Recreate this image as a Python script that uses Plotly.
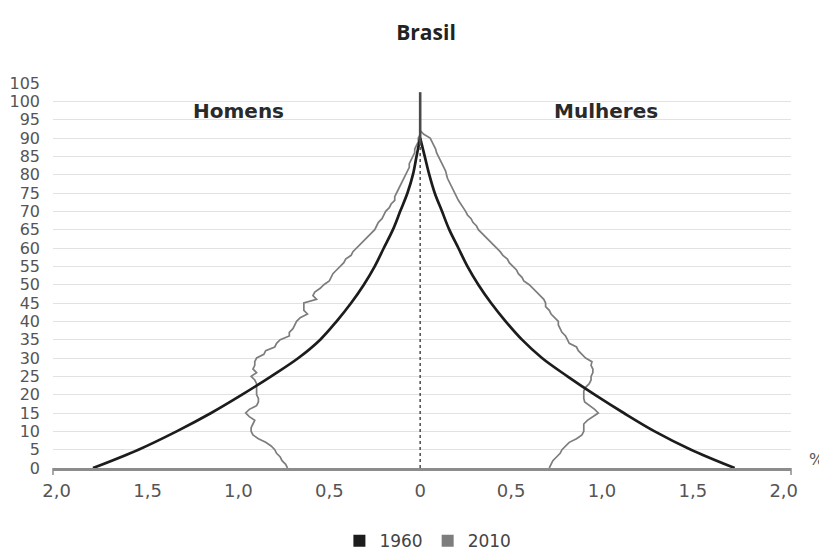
import plotly.graph_objects as go

# ---- data (percent of total population) ----
ages_1960 = [0, 5, 10, 15, 20, 25, 30, 35, 40, 45, 50, 55, 60, 65, 70, 75, 80, 85, 90]
men_1960 = [1.80, 1.55, 1.34, 1.15, 0.98, 0.82, 0.67, 0.55, 0.46, 0.38, 0.31, 0.25, 0.20,
            0.15, 0.11, 0.07, 0.04, 0.02, 0.0]
women_1960 = [1.73, 1.49, 1.29, 1.12, 0.96, 0.81, 0.67, 0.56, 0.47, 0.39, 0.32, 0.26, 0.21,
              0.16, 0.12, 0.08, 0.05, 0.025, 0.0]

ages_2010 = list(range(0, 93))
men_2010 = [0.73, 0.74, 0.76, 0.77, 0.79, 0.80, 0.82, 0.85, 0.89, 0.92,
            0.93, 0.93, 0.92, 0.91, 0.94, 0.96, 0.94, 0.90, 0.89, 0.89,
            0.90, 0.90, 0.90, 0.90, 0.91, 0.93, 0.90, 0.92, 0.91, 0.91,
            0.90, 0.86, 0.85, 0.80, 0.79, 0.77, 0.72, 0.72, 0.70, 0.69,
            0.68, 0.66, 0.62, 0.64, 0.64, 0.64, 0.57, 0.59, 0.58, 0.55,
            0.53, 0.50, 0.49, 0.48, 0.46, 0.44, 0.42, 0.41, 0.38, 0.37,
            0.35, 0.33, 0.31, 0.29, 0.27, 0.25, 0.24, 0.23, 0.21, 0.20,
            0.19, 0.17, 0.16, 0.14, 0.14, 0.13, 0.12, 0.11, 0.10, 0.09,
            0.08, 0.07, 0.06, 0.06, 0.05, 0.04, 0.03, 0.03, 0.02, 0.01,
            0.01, 0.0, 0.0]
women_2010 = [0.71, 0.72, 0.73, 0.75, 0.77, 0.78, 0.80, 0.82, 0.86, 0.89,
              0.90, 0.90, 0.90, 0.92, 0.95, 0.98, 0.96, 0.93, 0.905, 0.90,
              0.90, 0.90, 0.91, 0.93, 0.94, 0.94, 0.95, 0.95, 0.94, 0.945,
              0.91, 0.89, 0.87, 0.86, 0.82, 0.81, 0.80, 0.78, 0.77, 0.76,
              0.76, 0.74, 0.72, 0.71, 0.69, 0.69, 0.68, 0.66, 0.64, 0.62,
              0.60, 0.57, 0.56, 0.54, 0.53, 0.51, 0.49, 0.48, 0.455, 0.44,
              0.42, 0.40, 0.38, 0.36, 0.345, 0.32, 0.31, 0.29, 0.28, 0.26,
              0.25, 0.235, 0.22, 0.21, 0.20, 0.19, 0.18, 0.17, 0.16, 0.15,
              0.145, 0.14, 0.13, 0.12, 0.11, 0.10, 0.09, 0.085, 0.075, 0.065,
              0.055, 0.02, 0.0]

x_ticks = [-2.0, -1.5, -1.0, -0.5, 0.0, 0.5, 1.0, 1.5, 2.0]
x_labels = ["2,0", "1,5", "1,0", "0,5", "0", "0,5", "1,0", "1,5", "2,0"]
y_ticks = list(range(0, 106, 5))
series_names = ["1960", "2010"]
c1960 = "#1c1c1c"
c2010 = "#7d7d7d"
FONT = "DejaVu Sans"

fig = go.Figure()

# 2010 lines
fig.add_trace(go.Scatter(x=[-v for v in men_2010], y=ages_2010, mode="lines",
                         line=dict(color=c2010, width=1.7), showlegend=False, hoverinfo="skip"))
fig.add_trace(go.Scatter(x=women_2010, y=ages_2010, mode="lines",
                         line=dict(color=c2010, width=1.7), showlegend=False, hoverinfo="skip"))
# 1960 lines
fig.add_trace(go.Scatter(x=[-v for v in men_1960], y=ages_1960, mode="lines",
                         line=dict(color=c1960, width=2.7, shape="spline"), showlegend=False))
fig.add_trace(go.Scatter(x=women_1960, y=ages_1960, mode="lines",
                         line=dict(color=c1960, width=2.7, shape="spline"), showlegend=False))

# legend entries (squares)
for name, col in zip(series_names, [c1960, c2010]):
    fig.add_trace(go.Scatter(x=[None], y=[None], mode="markers", name=name,
                             marker=dict(symbol="square", size=15, color=col)))

# centre axis: dotted part and solid top
fig.add_shape(type="line", x0=0, x1=0, y0=0, y1=89, xref="x", yref="y",
              line=dict(color="#555555", width=1.6, dash="dot"))
fig.add_shape(type="line", x0=0, x1=0, y0=88, y1=102.5, xref="x", yref="y",
              line=dict(color="#4a4a4a", width=2.6))
# end ticks of the x axis line
for px in (0, 1):
    fig.add_shape(type="line", x0=px, x1=px, y0=0, y1=-0.018, xref="paper", yref="paper",
                  line=dict(color="#8c8c8c", width=1.5))

fig.add_annotation(x=-1.0, y=97.5, xref="x", yref="y", text="<b>Homens</b>", showarrow=False,
                   font=dict(family=FONT, size=20, color="#2a2a2a"))
fig.add_annotation(x=1.02, y=97.5, xref="x", yref="y", text="<b>Mulheres</b>", showarrow=False,
                   font=dict(family=FONT, size=20, color="#2a2a2a"))
fig.add_annotation(x=1.034, y=0.023, xref="paper", yref="paper", text="%", showarrow=False,
                   xanchor="center", yanchor="middle",
                   font=dict(family=FONT, size=16, color="#555555"))

# page body adds an 8 px offset, so the figure is 819x548 inside a 827x556 window
fig.update_layout(
    width=819, height=548,
    margin=dict(l=45, r=36, t=75, b=88, autoexpand=False),
    paper_bgcolor="white", plot_bgcolor="white",
    title=dict(text="<b>Brasil</b>", x=(418 - 45) / 738, xref="paper",
               xanchor="center", y=1 - 25 / 548, yanchor="middle",
               font=dict(family="Open Sans", size=21, color="#222222")),
    legend=dict(orientation="h", x=0.508, xanchor="center", y=-0.19, yanchor="middle",
                font=dict(family=FONT, size=17, color="#444444"),
                itemsizing="constant", tracegroupgap=0),
    font=dict(family=FONT, color="#555555"),
)
fig.update_xaxes(range=[-2.02, 2.04], tickvals=x_ticks, ticktext=x_labels, showgrid=False,
                 zeroline=False, showline=True, linecolor="#8c8c8c", linewidth=2.5,
                 ticks="", ticklabelstandoff=5, tickfont=dict(size=18, color="#555555"),
                 fixedrange=True, automargin=False)
fig.update_yaxes(range=[0, 105], tickvals=y_ticks, showgrid=True, gridcolor="#e2e2e2",
                 gridwidth=1, zeroline=False, showline=False, ticks="",
                 ticklabelstandoff=12, tickfont=dict(size=16, color="#555555"),
                 fixedrange=True, automargin=False)

fig.write_html("out.html")
